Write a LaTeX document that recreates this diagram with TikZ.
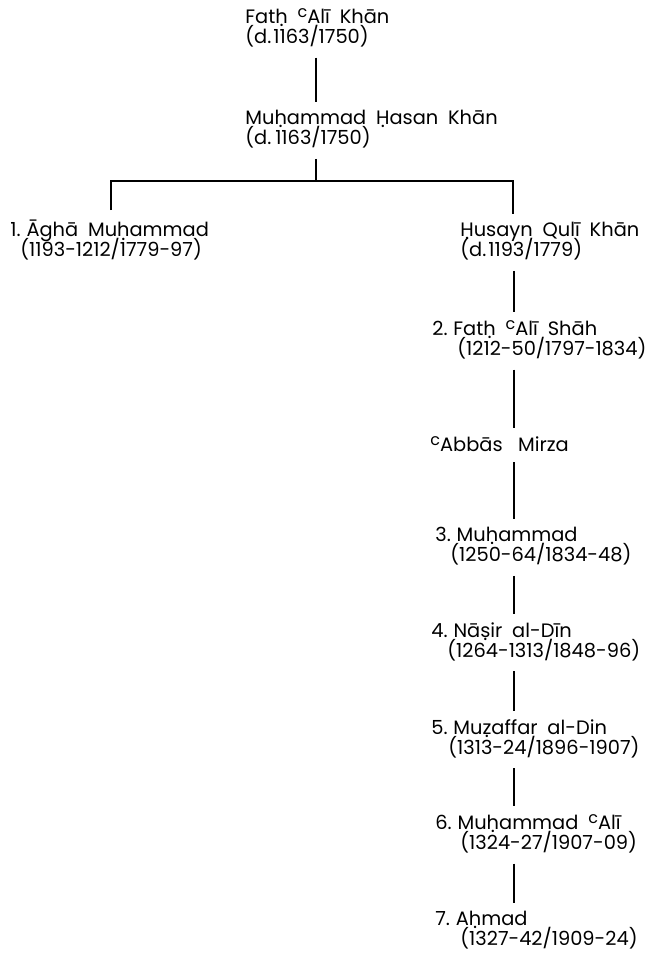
\documentclass[tikz,border=0pt]{standalone}
\usepackage{fontspec}
\setmainfont{Poppins}[WordSpace=1.9]
\usepackage{tikz}
\usetikzlibrary{positioning}

%% dot below, raised ayn, node font
\newcommand\db[1]{\ooalign{#1\cr\hidewidth\smash{\raisebox{-0.16em}{.}}\hidewidth\cr}}
\newcommand\ayn{\raisebox{0.6ex}{\fontsize{8}{8}\selectfont c}}
\newcommand\treefont{\fontsize{9.7}{10}\selectfont\lineskiplimit-20pt\relax}
\newcommand\nr[1]{#1.\hspace{0.3em}}

\tikzset{
  person/.style = {anchor=north west, inner sep=0pt, align=left, font=\treefont},
  kin/.style    = {line width=1.2pt, shorten <=5pt, shorten >=4pt},
}

\begin{document}
\begin{tikzpicture}[x=0.5pt, y=-0.5pt]
    \useasboundingbox (0,0) rectangle (670,953);

    %% Ancestors
    \node[person] (fathali) at (245,8)   {Fat\db{h} \ayn Alī Khān\\(d.\hspace{0.1em}1163/1750)};
    \node[person] (hasan)   at (245,110) {Mu\db{h}ammad \db{H}asan Khān\\(d.\hspace{0.2em}1163/1750)};

    %% Branches
    \node[person] (agha)    at (10,220)  {\nr{1}Āghā Mu\db{h}ammad\\\hspace*{5pt}(1193-1212/1779-97)};
    \node[person] (husayn)  at (460,222) {\db{H}usayn Qulī Khān\\(d.\hspace{0.1em}1193/1779)};

    %% Line of succession
    \node[person] (fathshah) at (432,320) {\nr{2}Fat\db{h} \ayn Alī Shāh\\\hspace*{12.5pt}(1212-50/1797-1834)};
    \node[person] (abbas)    at (430,436) {\ayn Abbās\hspace{0.8em}Mirza};
    \node[person] (muhammad) at (435,527) {\nr{3}Mu\db{h}ammad\\\hspace*{7.5pt}(1250-64/1834-48)};
    \node[person] (nasir)    at (431,622) {\nr{4}Nā\db{s}ir al-Dīn\\\hspace*{8pt}(1264-1313/1848-96)};
    \node[person] (muzaffar) at (431,719) {\nr{5}Mu\db{z}affar al-Din\\\hspace*{8.5pt}(1313-24/1896-1907)};
    \node[person] (muhali)   at (435,814) {\nr{6}Mu\db{h}ammad \ayn Alī\\\hspace*{12.5pt}(1324-27/1907-09)};
    \node[person] (ahmad)    at (435,911) {\nr{7}A\db{h}mad\\\hspace*{12.5pt}(1327-42/1909-24)};

    %% Connectors
    \coordinate (top)   at (316,0);
    \coordinate (fork)  at (316,181);
    \coordinate (lj)    at (111,181);
    \coordinate (rj)    at (513,181);
    \coordinate (spine) at (514,0);

    \draw[kin] (fathali.south -| top) -- (hasan.north -| top);
    \draw[kin, shorten >=0pt] (hasan.south -| fork) -- (fork);
    \draw[kin] (agha.north -| lj) -- (lj) -- (rj) -- (husayn.north -| rj);

    \foreach \a/\b in {husayn/fathshah, fathshah/abbas, abbas/muhammad, muhammad/nasir,
                       nasir/muzaffar, muzaffar/muhali, muhali/ahmad}
      \draw[kin] (\a.south -| spine) -- (\b.north -| spine);

\end{tikzpicture}
\end{document}
